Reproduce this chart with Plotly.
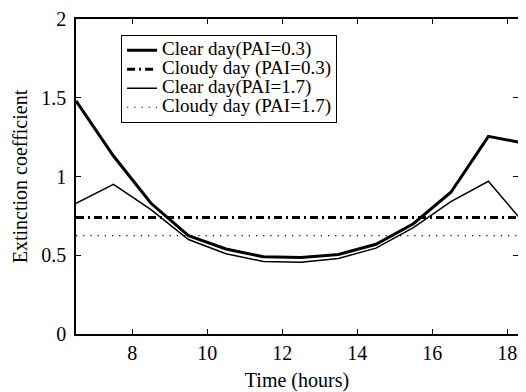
import plotly.graph_objects as go

hours = [6.5, 7.5, 8.5, 9.5, 10.5, 11.5, 12.5, 13.5, 14.5, 15.5, 16.5, 17.5, 18.5]
clear_03 = [1.48, 1.13, 0.83, 0.625, 0.54, 0.49, 0.485, 0.505, 0.57, 0.70, 0.90, 1.255, 1.21]
clear_17 = [0.83, 0.95, 0.79, 0.60, 0.51, 0.46, 0.455, 0.48, 0.545, 0.675, 0.84, 0.97, 0.69]
cloudy_03 = 0.74
cloudy_17 = 0.625
series_names = ["Clear day(PAI=0.3)", "Cloudy day (PAI=0.3)", "Clear day(PAI=1.7)", "Cloudy day (PAI=1.7)"]
x_ticks = [8, 10, 12, 14, 16, 18]
y_ticks = [0, 0.5, 1, 1.5, 2]
y_ticktext = ["0", "0.5", "1", "1.5", "2"]

FONT = "Liberation Serif, Times New Roman, serif"


def lg(t):
    return '<span style="font-size:19px">' + t + '</span>'


fig = go.Figure()
fig.add_trace(go.Scatter(x=hours, y=clear_03, mode="lines", name=lg(series_names[0]),
                         line=dict(color="black", width=3)))
fig.add_trace(go.Scatter(x=hours, y=[cloudy_03] * len(hours), mode="lines", name=lg(series_names[1]),
                         line=dict(color="black", width=3, dash="8px,4px,2px,4px")))
fig.add_trace(go.Scatter(x=hours, y=clear_17, mode="lines", name=lg(series_names[2]),
                         line=dict(color="black", width=1.5)))
fig.add_trace(go.Scatter(x=hours, y=[cloudy_17] * len(hours), mode="lines", name=lg(series_names[3]),
                         line=dict(color="black", width=1.2, dash="1.2px,6px")))
# invisible trace for right-side ticks
fig.add_trace(go.Scatter(x=[hours[0]], y=[0], yaxis="y2", mode="markers",
                         marker=dict(opacity=0), showlegend=False, hoverinfo="skip"))

# the page body adds an 8px offset and only ~510px of width is visible
fig.update_layout(
    width=510, height=384,
    margin=dict(l=68, r=0, t=11, b=58),
    paper_bgcolor="white", plot_bgcolor="white",
    font=dict(family=FONT, size=20, color="black"),
    showlegend=True,
    legend=dict(x=0.102, y=0.95, xanchor="left", yanchor="top",
                bgcolor="white", bordercolor="black", borderwidth=1,
                font=dict(family=FONT, size=12), tracegroupgap=0,
                itemwidth=30),
    xaxis=dict(range=[6.5, 18.29], tickvals=x_ticks, automargin=False,
               ticks="inside", ticklen=5, tickcolor="black", showgrid=False,
               zeroline=False, showline=True, linecolor="black", linewidth=1.5,
               mirror="ticks", tickfont=dict(size=20), ticklabeloverflow="allow",
               title=dict(text="Time (hours)", font=dict(family=FONT, size=20), standoff=12)),
    yaxis=dict(range=[0, 2], tickvals=y_ticks, ticktext=y_ticktext, automargin=False,
               ticks="inside", ticklen=5, tickcolor="black", showgrid=False,
               zeroline=False, showline=True, linecolor="black", linewidth=1.5,
               tickfont=dict(size=20), ticklabelstandoff=4, ticklabeloverflow="allow",
               title=dict(text="Extinction coefficient", font=dict(family=FONT, size=20), standoff=8)),
    yaxis2=dict(range=[0, 2], overlaying="y", side="right", tickvals=y_ticks,
                showticklabels=False, ticks="inside", ticklen=5, tickcolor="black",
                showgrid=False, zeroline=False, showline=False),
)

fig.write_html("out.html")
